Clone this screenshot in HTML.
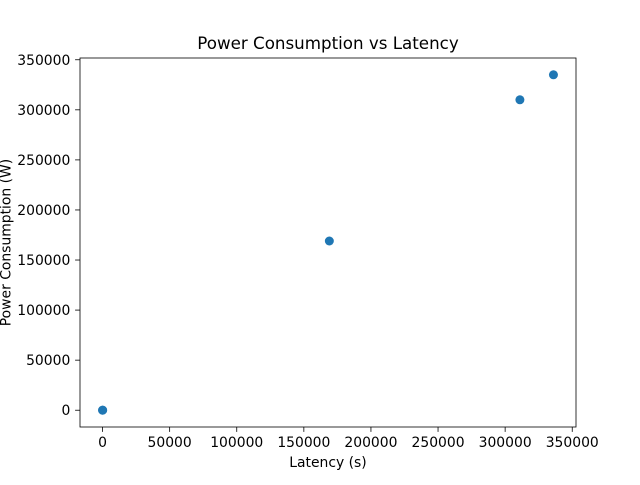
<!DOCTYPE html>
<html><head><meta charset="utf-8"><style>
body{margin:0;background:#fff;}
text{font-family:"DejaVu Sans","Liberation Sans",sans-serif;fill:#000;}
</style></head><body>
<svg id="chart" width="640" height="480" xmlns="http://www.w3.org/2000/svg"></svg>
<script>
const latency = [0, 100, 169000, 311000, 336000];
const power = [0, 100, 169000, 310000, 335000];
const xTicks = [0, 50000, 100000, 150000, 200000, 250000, 300000, 350000];
const yTicks = [0, 50000, 100000, 150000, 200000, 250000, 300000, 350000];
const NS = "http://www.w3.org/2000/svg";
const svg = document.getElementById('chart');
const L=80, R=576, T=58, B=427;
function ext(a){const mn=Math.min(...a),mx=Math.max(...a),d=(mx-mn)*0.05;return [mn-d,mx+d];}
const [x0,x1]=ext(latency), [y0,y1]=ext(power);
const sx=v=>L+(v-x0)/(x1-x0)*(R-L);
const sy=v=>B-(v-y0)/(y1-y0)*(B-T);
function el(tag,attrs,txt){const e=document.createElementNS(NS,tag);for(const k in attrs)e.setAttribute(k,attrs[k]);if(txt!=null)e.textContent=txt;svg.appendChild(e);return e;}
xTicks.forEach(v=>{const x=sx(v);
 const t=el('line',{x1:x,x2:x,y1:B,y2:B+4.9,stroke:'#000','stroke-width':0.8});
 
 
 const l=el('text',{x:x,y:B+20,'font-size':13.9,'text-anchor':'middle'},String(v));
 
 
});
yTicks.forEach(v=>{const y=sy(v);
 const t=el('line',{x1:L-4.9,x2:L,y1:y,y2:y,stroke:'#000','stroke-width':0.8});
 
 
 const l=el('text',{x:L-9.7,y:y+5,'font-size':13.9,'text-anchor':'end'},String(v));
 
 
});
latency.forEach((v,i)=>{
 const c=el('circle',{cx:sx(v),cy:sy(power[i]),r:4.5,fill:'#1f77b4'});
 
 
});
const f=el('rect',{x:L,y:T,width:R-L,height:B-T,fill:'none',stroke:'#000','stroke-width':0.8});


const ti=el('text',{x:(L+R)/2,y:49,'font-size':16.7,'text-anchor':'middle'},'Power Consumption vs Latency');


const xt=el('text',{x:(L+R)/2,y:467,'font-size':13.9,'text-anchor':'middle'},'Latency (s)');


const yt=el('text',{x:0,y:0,'font-size':13.9,'text-anchor':'middle',transform:`translate(10.5,${(T+B)/2}) rotate(-90)`},'Power Consumption (W)');


</script>
</body></html>
